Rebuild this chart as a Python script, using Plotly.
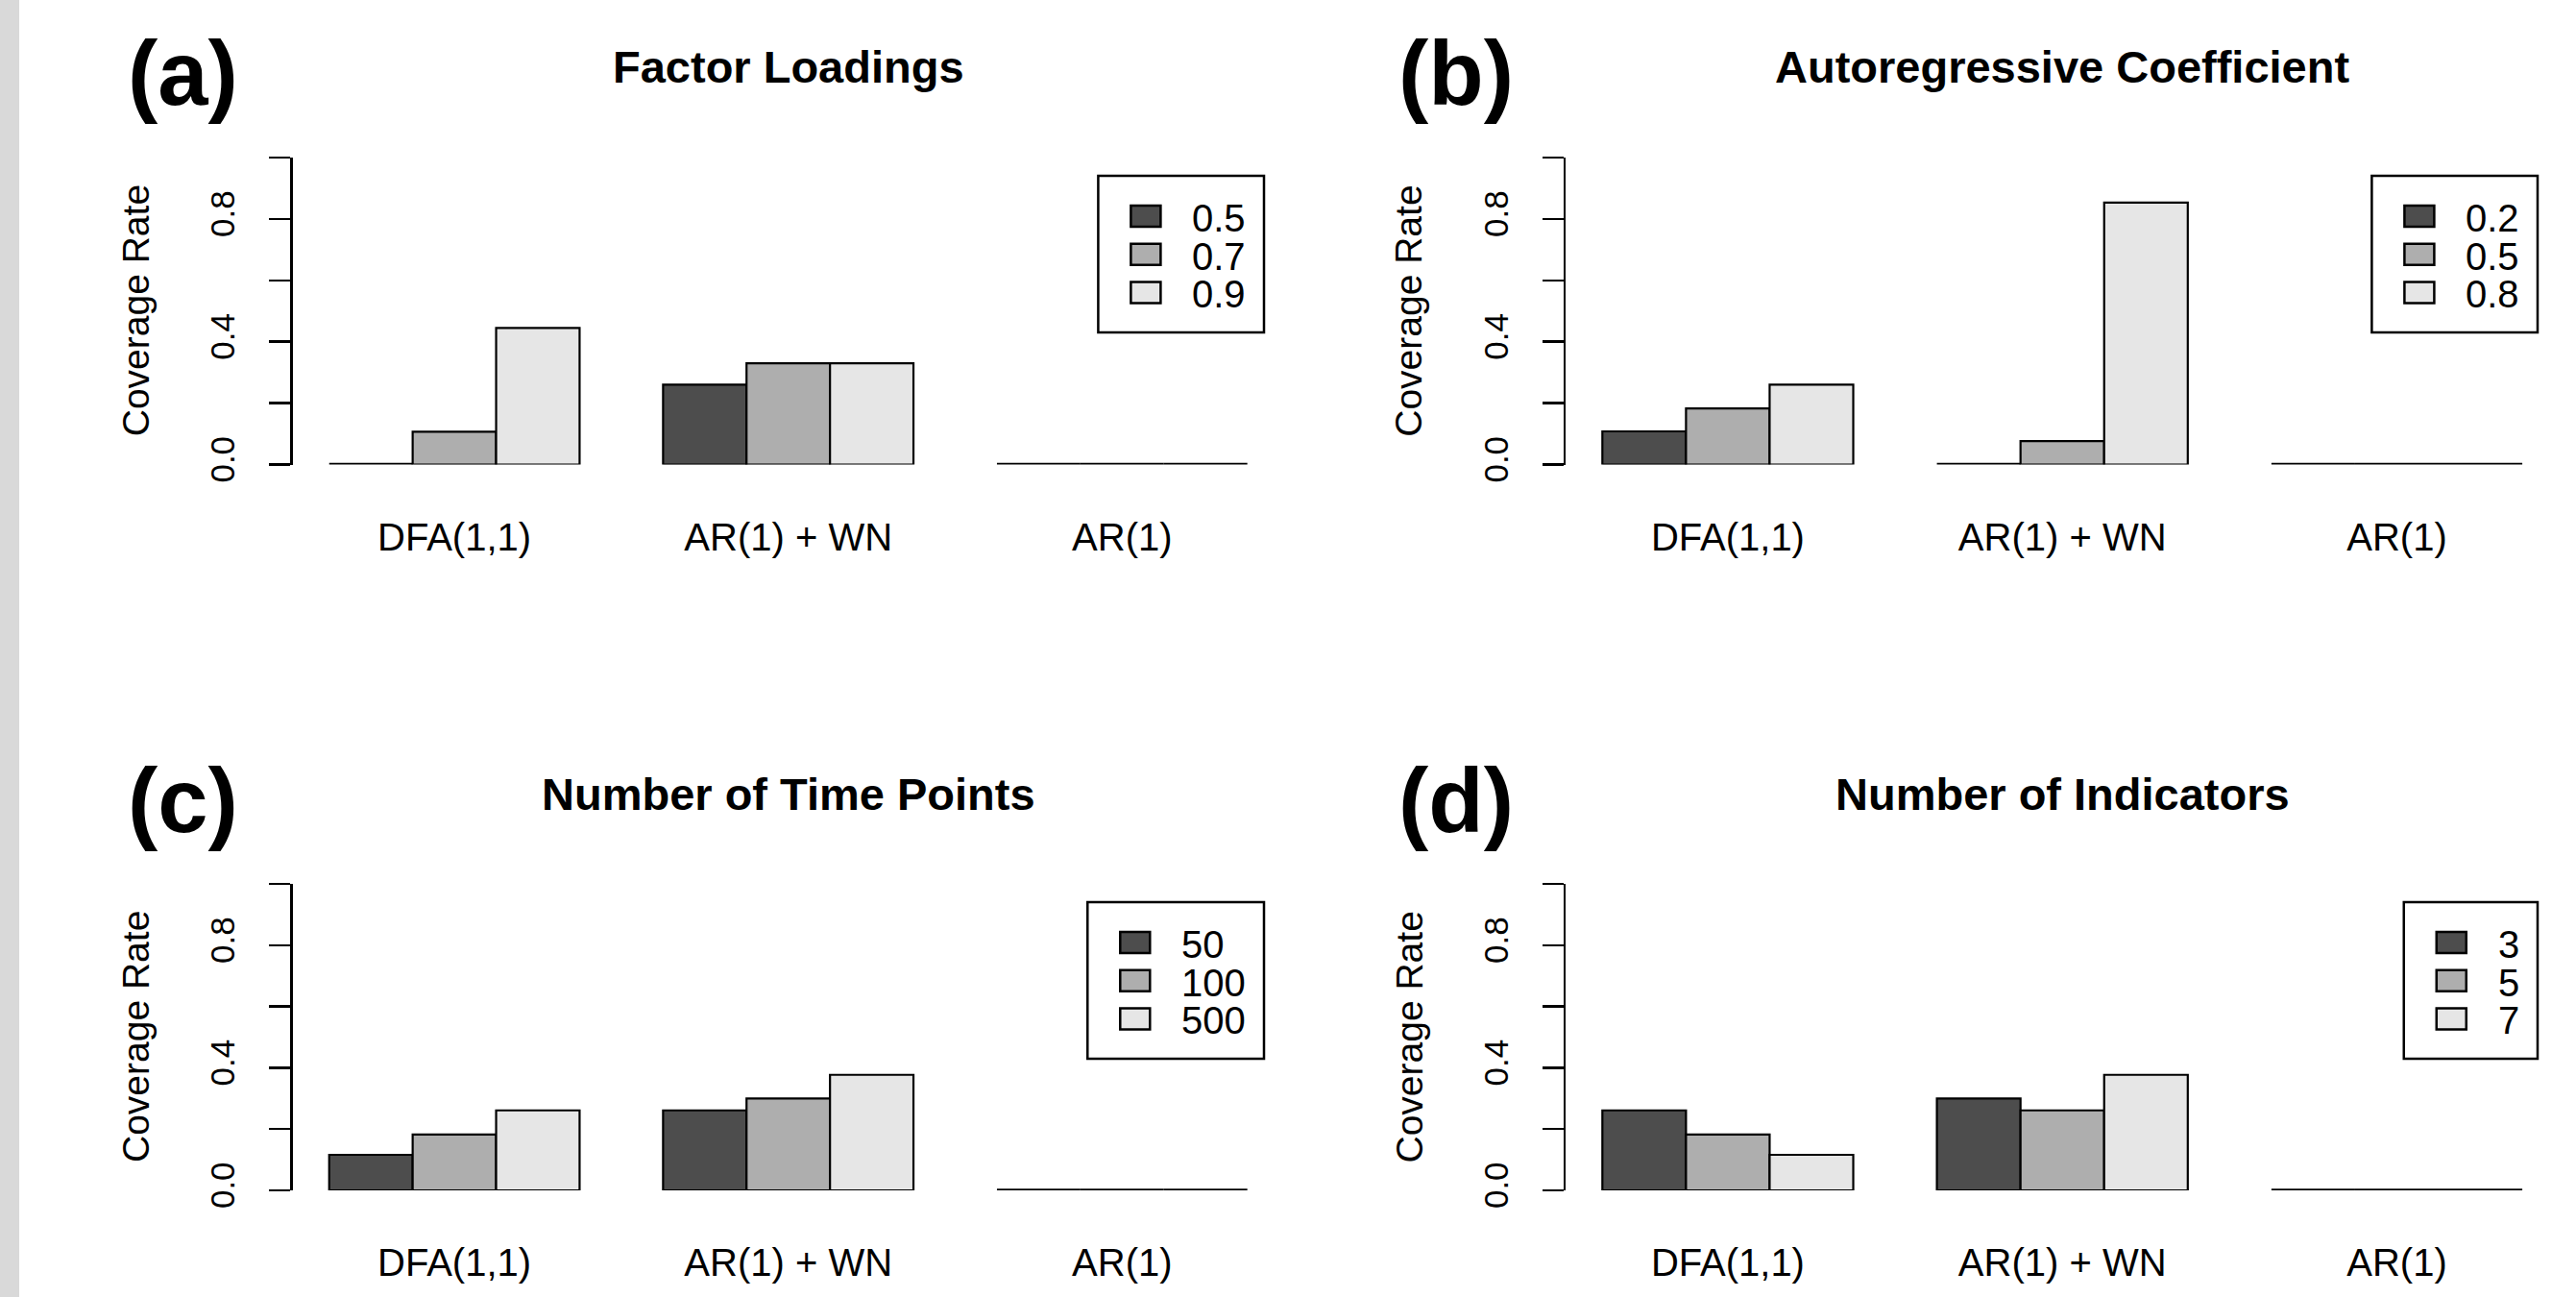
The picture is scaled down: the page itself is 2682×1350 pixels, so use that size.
import plotly.graph_objects as go

# ---------------- data ----------------
categories = ["DFA(1,1)", "AR(1) + WN", "AR(1)"]
panel_titles = ["Factor Loadings", "Autoregressive Coefficient",
                "Number of Time Points", "Number of Indicators"]
panel_tags = ["(a)", "(b)", "(c)", "(d)"]

levels_loadings = ["0.5", "0.7", "0.9"]
levels_ar = ["0.2", "0.5", "0.8"]
levels_time = ["50", "100", "500"]
levels_indicators = ["3", "5", "7"]

# coverage rate for each level (rows) across the three models (columns)
rates_loadings = [[0.000, 0.260, 0.000],
                  [0.107, 0.330, 0.000],
                  [0.445, 0.330, 0.000]]
rates_ar = [[0.108, 0.000, 0.000],
            [0.183, 0.076, 0.000],
            [0.260, 0.853, 0.000]]
rates_time = [[0.116, 0.261, 0.000],
              [0.182, 0.300, 0.000],
              [0.261, 0.377, 0.000]]
rates_indicators = [[0.261, 0.300, 0.000],
                    [0.182, 0.261, 0.000],
                    [0.116, 0.377, 0.000]]

y_tick_vals = [0.0, 0.2, 0.4, 0.6, 0.8, 1.0]
y_tick_text = ["0.0", "", "0.4", "", "0.8", ""]
y_label = "Coverage Rate"

# ---------------- style / layout ----------------
W, H = 2682, 1350
fills = ["#4D4D4D", "#AEAEAE", "#E6E6E6"]
FONT = "Liberation Sans, Arial, sans-serif"
LEG_FONT = 40
BAR_LINE = 2.2
ZERO_LINE = 3.6


def px_x(p):
    return p / W


def px_y(p):
    return 1 - p / H


def text_width(s, size):
    # rough Arial advance widths for digits / dot
    return sum((0.278 if ch == "." else 0.556) for ch in s) * size


col_x = [(304.5, 1336.9), (1630.0, 2664.4)]      # plot-region edges (px)
row_y = [(164.0, 483.5), (920.0, 1239.0)]        # y=1 and y=0 positions (px)

panels = [
    (levels_loadings, rates_loadings, 0, 0),
    (levels_ar, rates_ar, 1, 0),
    (levels_time, rates_time, 0, 1),
    (levels_indicators, rates_indicators, 1, 1),
]
legend_corner = [(1316, 183), (2642, 183), (1316, 939), (2642, 939)]

fig = go.Figure()
layout = dict(
    width=W, height=H, autosize=False,
    margin=dict(l=0, r=0, t=0, b=0, autoexpand=False),
    paper_bgcolor="white", plot_bgcolor="white",
    barmode="group", bargap=0.25, bargroupgap=0.0,
    font=dict(family=FONT, color="black"),
    showlegend=False,
    annotations=[], shapes=[],
)

for i, (levels, rates, col, row) in enumerate(panels):
    k = "" if i == 0 else str(i + 1)
    xa, ya = "x" + k, "y" + k
    for j, lev in enumerate(levels):
        vals = rates[j]
        fig.add_trace(go.Bar(
            x=categories, y=vals, name=lev,
            xaxis=xa, yaxis=ya,
            marker=dict(
                color=fills[j],
                line=dict(color="black",
                          width=[ZERO_LINE if v == 0 else BAR_LINE for v in vals]),
            ),
            cliponaxis=False, hoverinfo="skip",
        ))
    x0, x1 = col_x[col]
    ytop, ybot = row_y[row]
    layout["xaxis" + k] = dict(
        domain=[px_x(x0), px_x(x1)], range=[-0.485, 2.485],
        anchor=ya, showline=False, showgrid=False, zeroline=False,
        ticks="", ticklabelstandoff=48, automargin=False,
        tickfont=dict(size=40, family=FONT, color="black"),
        fixedrange=True,
    )
    layout["yaxis" + k] = dict(
        domain=[px_y(ybot), px_y(ytop)], range=[0, 1],
        anchor=xa, showline=True, linecolor="black", linewidth=2.5,
        showgrid=False, zeroline=False, automargin=False,
        ticks="outside", ticklen=22, tickwidth=2.5, tickcolor="black",
        tickvals=y_tick_vals, ticktext=y_tick_text, tickangle=-90,
        ticklabelstandoff=22,
        tickfont=dict(size=35, family=FONT, color="black"),
        fixedrange=True,
    )

    # ---- legend box (R style): swatches + labels ----
    rx, ty = legend_corner[i]
    tw = max(text_width(s, LEG_FONT) for s in levels)
    lx = rx - (97 + tw + 20)
    layout["shapes"].append(dict(
        type="rect", xref="paper", yref="paper",
        x0=px_x(lx), x1=px_x(rx), y0=px_y(ty + 163), y1=px_y(ty),
        fillcolor="white", line=dict(color="black", width=2.5), layer="above",
    ))
    for j, lev in enumerate(levels):
        cy = ty + 42 + 39.7 * j
        layout["shapes"].append(dict(
            type="rect", xref="paper", yref="paper",
            x0=px_x(lx + 34), x1=px_x(lx + 65),
            y0=px_y(cy + 11), y1=px_y(cy - 11),
            fillcolor=fills[j], line=dict(color="black", width=2.5), layer="above",
        ))
        layout["annotations"].append(dict(
            text=lev, x=px_x(lx + 96), y=px_y(cy + 2),
            xref="paper", yref="paper", xanchor="left", yanchor="middle",
            showarrow=False, font=dict(size=LEG_FONT, family=FONT, color="black"),
        ))

    cx = (x0 + x1) / 2
    layout["annotations"].append(dict(
        text="<b>%s</b>" % panel_titles[i], x=px_x(cx), y=px_y(ytop - 94),
        xref="paper", yref="paper", xanchor="center", yanchor="middle",
        showarrow=False, font=dict(size=47, family=FONT, color="black"),
    ))
    layout["annotations"].append(dict(
        text="<b>%s</b>" % panel_tags[i], x=px_x(x0 - 114), y=px_y(ytop - 87),
        xref="paper", yref="paper", xanchor="center", yanchor="middle",
        showarrow=False, font=dict(size=94, family=FONT, color="black"),
    ))
    layout["annotations"].append(dict(
        text=y_label, x=px_x(x0 - 163), y=px_y((ytop + ybot) / 2),
        xref="paper", yref="paper", xanchor="center", yanchor="middle",
        textangle=-90, showarrow=False,
        font=dict(size=39, family=FONT, color="black"),
    ))

# light grey strip at the left edge of the page
layout["shapes"].append(dict(
    type="rect", xref="paper", yref="paper", x0=0, x1=px_x(20), y0=0, y1=1,
    fillcolor="#d9d9d9", line=dict(width=0), layer="below",
))

fig.update_layout(**layout)

fig.write_html(
    "out.html",
    config={"displayModeBar": False, "staticPlot": True, "responsive": False},
    post_script="document.body.style.margin='0';document.body.style.overflow='hidden';",
)
